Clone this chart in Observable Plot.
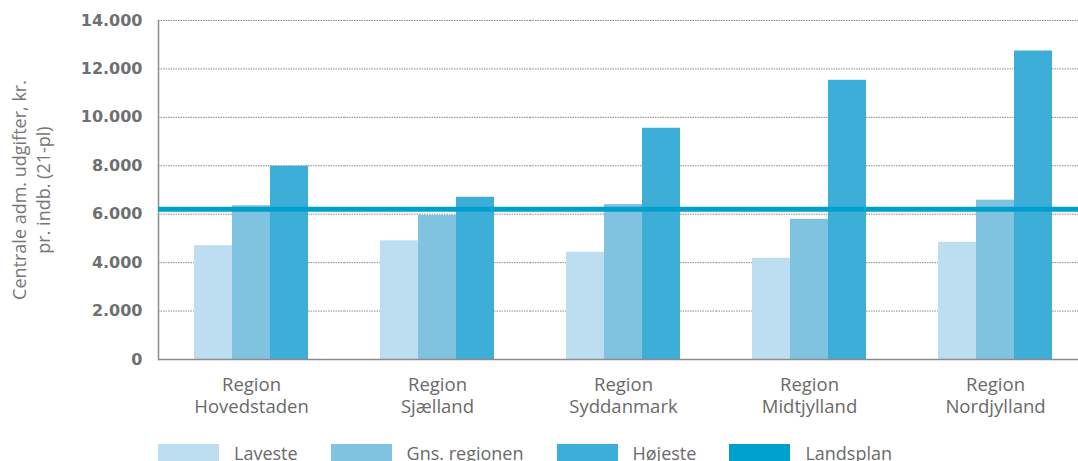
<!DOCTYPE html>
<html>
<head>
<meta charset="utf-8">
<script src="https://cdn.jsdelivr.net/npm/d3@7"></script>
<script src="https://cdn.jsdelivr.net/npm/@observablehq/plot@0.6"></script>
<style>
  html, body { margin: 0; padding: 0; background: #fff; overflow: hidden; }
  #legend { display: flex; align-items: center; margin-left: 158px; margin-top: 12px; font-family: "Open Sans", sans-serif; font-size: 18px; color: #6a6a6a; line-height: 18px; }
  .item { display: flex; align-items: center; margin-right: 33px; }
  .sw { width: 61px; height: 18px; margin-right: 15px; }
</style>
</head>
<body>
<div id="chart"></div>
<div id="legend"></div>
<script>
const regions = ["Region Hovedstaden", "Region Sjælland", "Region Syddanmark", "Region Midtjylland", "Region Nordjylland"];
const seriesNames = ["Laveste", "Gns. regionen", "Højeste"];
const laveste = [4700, 4900, 4430, 4180, 4840];
const gnsRegionen = [6350, 5950, 6400, 5790, 6580];
const hojeste = [7980, 6700, 9550, 11530, 12740];
const landsplan = 6200;
const yTicks = [0, 2000, 4000, 6000, 8000, 10000, 12000, 14000];
const colors = ["#bddef0", "#80c3e1", "#3caed7"];
const landsplanColor = "#00a0cc";
const yTitle = "Centrale adm. udgifter, kr.\npr. indb. (21-pl)";

const valuesBySeries = [laveste, gnsRegionen, hojeste];
const data = regions.flatMap((r, i) => seriesNames.map((s, j) => ({region: r, series: s, value: valuesBySeries[j][i]})));

const fmt = d => d3.format(",")(d).replace(/,/g, ".");

const chart = Plot.plot({
  width: 1078,
  height: 432,
  marginLeft: 158,
  marginRight: -10,
  marginTop: 20,
  marginBottom: 73,
  style: {fontFamily: "Open Sans, sans-serif", background: "#fff"},
  fx: {domain: regions, padding: 0, label: null},
  x: {domain: seriesNames, paddingInner: 0, paddingOuter: 0.947, axis: null},
  y: {domain: [0, 14000], axis: null},
  color: {domain: seriesNames, range: colors},
  marks: [
    Plot.ruleY(yTicks.filter(d => d > 0), {stroke: "#8a8a8a", strokeWidth: 1, strokeDasharray: "1.5,1"}),
    Plot.barY(data, {fx: "region", x: "series", y: "value", fill: "series"}),
    Plot.ruleY([0], {stroke: "#8c8c8c", strokeWidth: 1.5}),
    Plot.frame({anchor: "left", facetAnchor: "left", stroke: "#8c8c8c", strokeWidth: 1.5}),
    Plot.ruleY([landsplan], {stroke: landsplanColor, strokeWidth: 5}),
    Plot.text(yTicks, {facetAnchor: "left", y: d => d, text: fmt, frameAnchor: "left", textAnchor: "end", dx: -16, fontSize: 16, fontWeight: "bold", fontFamily: "DejaVu Sans", fill: "#6f6f6f"}),
    Plot.text([yTitle], {facetAnchor: "left", frameAnchor: "left", textAnchor: "middle", dx: -128, rotate: -90, text: d => d, lineAnchor: "middle", lineHeight: 1.33, fontSize: 18, fill: "#777"}),
    Plot.axisFx({anchor: "bottom", tickSize: 0, tickPadding: 16, label: null, fontSize: 18.5, lineHeight: 1.2, fill: "#6a6a6a", tickFormat: d => d.replace(" ", "\n")})
  ]
});
document.getElementById("chart").appendChild(chart);

const legend = document.getElementById("legend");
[...seriesNames.map((s, i) => [s, colors[i]]), ["Landsplan", landsplanColor]].forEach(([label, c]) => {
  const it = document.createElement("div");
  it.className = "item";
  const sw = document.createElement("div");
  sw.className = "sw";
  sw.style.background = c;
  const t = document.createElement("span");
  t.textContent = label;
  it.appendChild(sw);
  it.appendChild(t);
  legend.appendChild(it);
});
</script>
</body>
</html>
